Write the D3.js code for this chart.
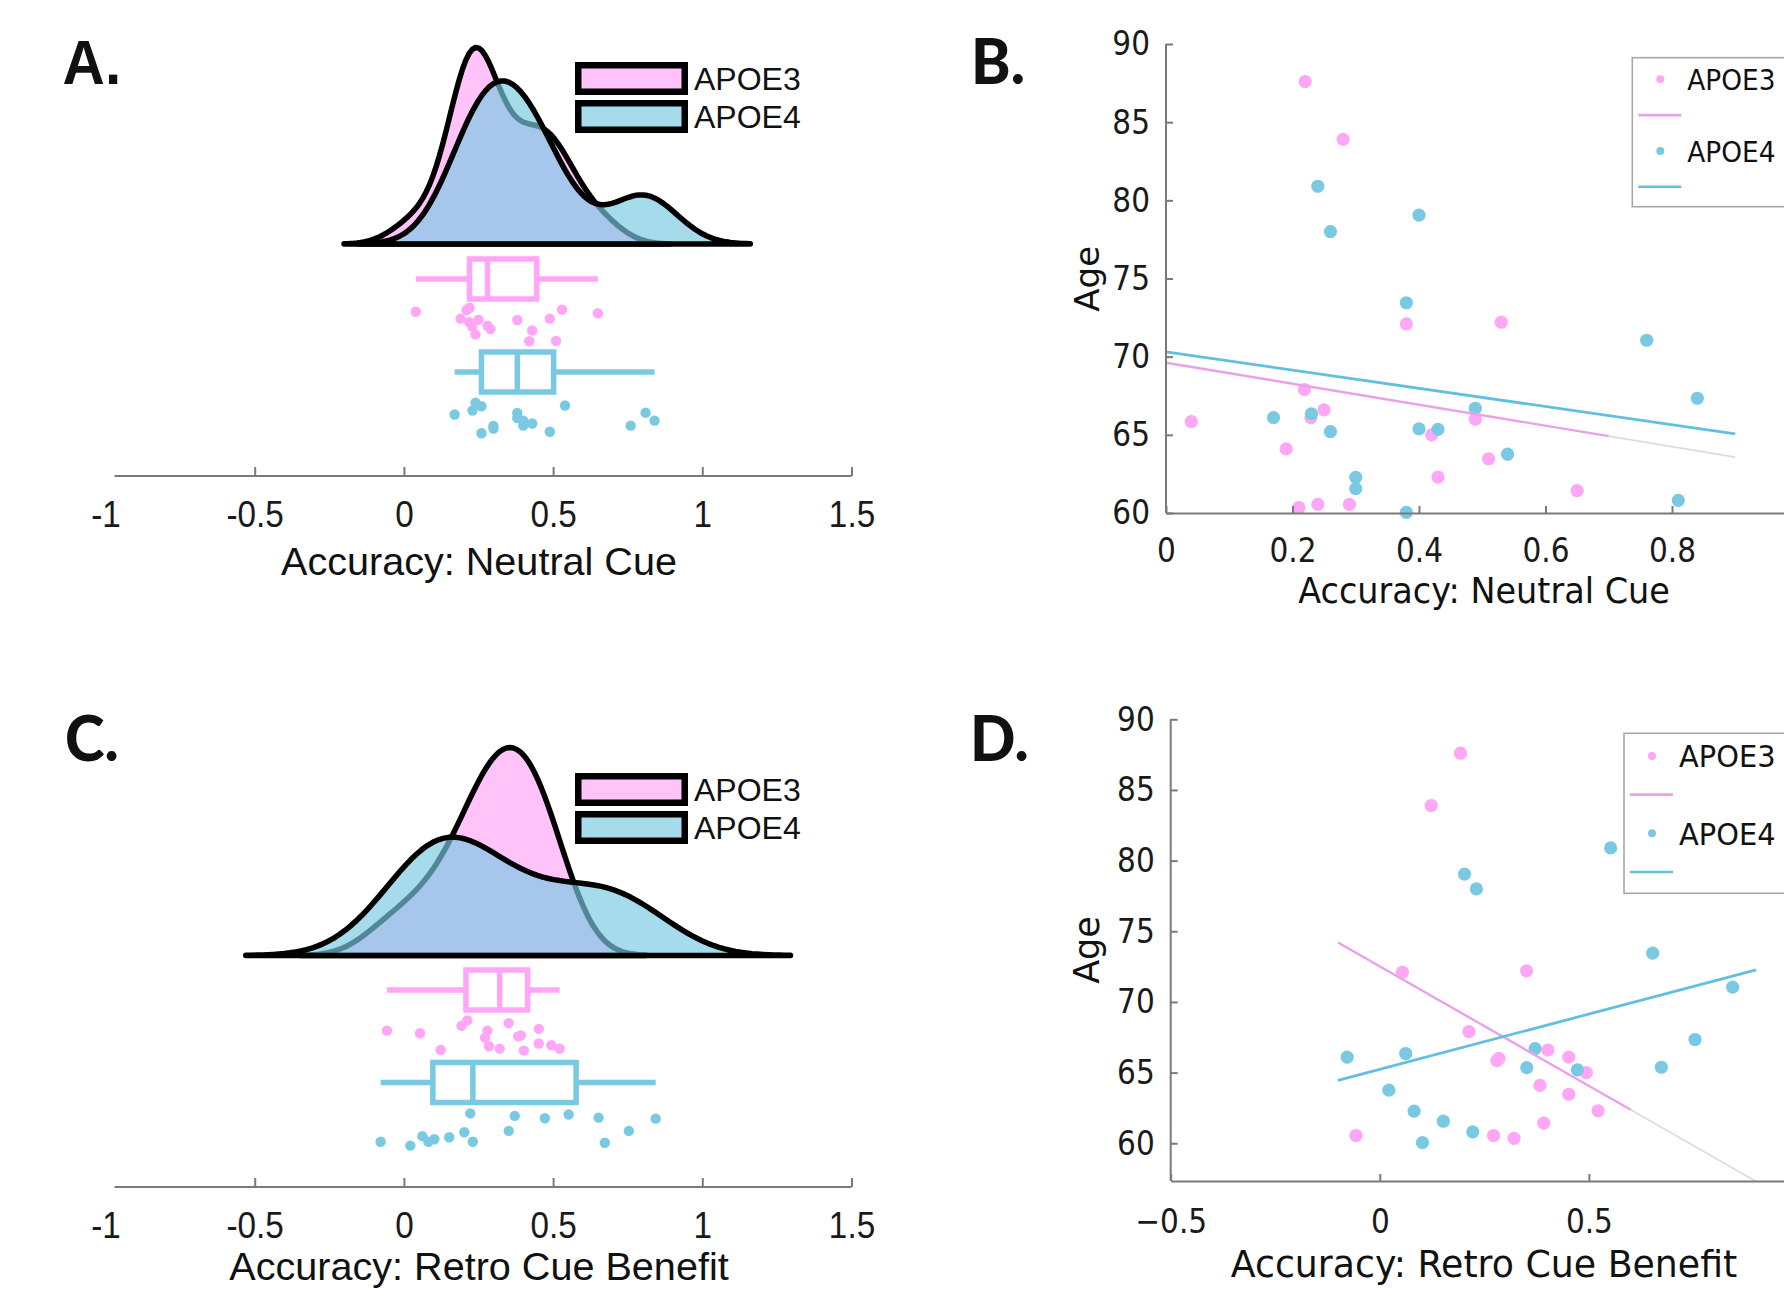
<!DOCTYPE html>
<html>
<head>
<meta charset="utf-8">
<title>APOE3 / APOE4 accuracy and age</title>
<script src="https://d3js.org/d3.v7.min.js"></script>
<style>
  body { margin: 0; background: #fff; }
  svg { display: block; }
</style>
</head>
<body>
<div id="fig"></div>
<script>
// ---- data: one entry per participant ----
var groups = ['APOE3', 'APOE4'];

var e3Neutral = [0.22, 0.28, 0.38, 0.219, 0.25, 0.229, 0.04, 0.19, 0.42, 0.43, 0.21, 0.24, 0.29, 0.489, 0.53, 0.51, 0.65];
var e3Retro   = [0.193, 0.123, 0.054, 0.213, 0.402, 0.452, 0.28, 0.383, 0.494, 0.522, 0.321, -0.057, 0.272, 0.285, 0.351, 0.452, 0.392];
var e3Age     = [87.6, 83.9, 72.1, 67.9, 66.6, 66.1, 65.85, 64.1, 65.0, 62.3, 60.35, 60.55, 60.55, 66.0, 72.2, 63.47, 61.43];

var e4Neutral = [0.24, 0.26, 0.40, 0.38, 0.17, 0.23, 0.26, 0.40, 0.43, 0.30, 0.30, 0.38, 0.489, 0.54, 0.76, 0.84, 0.81];
var e4Retro   = [0.552, 0.231, 0.2025, 0.6525, -0.078, 0.062, 0.4725, 0.6733, 0.3514, 0.082, 0.152, 0.102, 0.3714, 0.0216, 0.8437, 0.7538, 0.2223];
var e4Age     = [80.9, 78.0, 79.05, 73.45, 66.1, 66.35, 65.2, 65.38, 65.35, 62.28, 61.56, 60.04, 66.7, 63.76, 71.05, 67.34, 60.81];

// vertical jitter of the rain dots (0 = top of the band, 1 = bottom)
var e3NeutralJit = [0.05, 0.55, 0.39, 0.45, 0.38, 0.57, 0.16, 0.35, 0.98, 0.68, 0.11, 0.79, 0.64, 0.35, 0.1, 0.97, 0.2];
var e4NeutralJit = [0.1, 0.2, 0.74, 0.39, 0.43, 0.32, 0.95, 0.6, 0.68, 0.82, 0.75, 0.53, 0.91, 0.18, 0.74, 0.6, 0.38];
var e3RetroJit   = [0.23, 0.94, 0.45, 0.07, 0.96, 0.32, 0.37, 0.54, 0.8, 0.9, 0.9, 0.37, 0.58, 0.83, 0.15, 0.75, 0.51];
var e4RetroJit   = [0.07, 0.85, 0.58, 0.16, 0.85, 0.69, 0.18, 0.88, 0.54, 0.85, 0.72, 0.78, 0.11, 0.96, 0.19, 0.54, 0.04];

var ticksRain    = [-1, -0.5, 0, 0.5, 1, 1.5];
var ticksNeutral = [0, 0.2, 0.4, 0.6, 0.8];   // the 1 tick falls past the cropped edge
var ticksRetro   = [-0.5, 0, 0.5];
var ticksAge     = [60, 65, 70, 75, 80, 85, 90];

// x extent of the fitted lines: [start, end of coloured APOE3 part, end]
var fitSpanB = [0, 0.7, 0.9];
var fitSpanD = [-0.1, 0.6, 0.9];

var colors = ['#ffa6f7', '#7ac9e3'];
var lineColors = ['#eba0ea', '#62bfe0'];
var fontA = '"Liberation Sans", Arial, sans-serif';
var fontB = '"DejaVu Sans", Verdana, sans-serif';

var svg = d3.select('#fig').append('svg').attr('width', 1784).attr('height', 1290);

// text with an optional horizontal squeeze (the figure was resized unevenly)
function label(x, y, str, size, k, family, anchor, weight, rotate) {
  var g = svg.append('g').attr('transform', 'translate(' + x + ',' + y + ')' + (rotate ? ' rotate(' + rotate + ')' : '') + ' scale(' + k + ',1)');
  var t = g.append('text').attr('text-anchor', anchor || 'middle').attr('dy', '0.35em')
    .style('font-family', family).style('font-size', size + 'px').style('fill', '#111').text(str);
  if (weight) t.style('font-weight', weight);
  return t;
}

// matlab style ksdensity with default (normal) bandwidth
function ksdensity(v) {
  var n = v.length, med = d3.median(v);
  var sig = d3.median(v, function (d) { return Math.abs(d - med); }) / 0.6745;
  var u = sig * Math.pow(4 / (3 * n), 0.2);
  var lo = d3.min(v) - 3 * u, hi = d3.max(v) + 3 * u;
  return d3.range(100).map(function (i) {
    var xi = lo + (hi - lo) * i / 99;
    var f = d3.sum(v, function (d) { return Math.exp(-0.5 * Math.pow((xi - d) / u, 2)); }) / (n * u * Math.sqrt(2 * Math.PI));
    return [xi, f];
  });
}

// matlab style prctile
function prctile(sorted, p) {
  var n = sorted.length, pos = n * p + 0.5;
  if (pos <= 1) return sorted[0];
  if (pos >= n) return sorted[n - 1];
  var i = Math.floor(pos), f = pos - i;
  return sorted[i - 1] + f * (sorted[i] - sorted[i - 1]);
}

function styleAxis(g, size, k, family, left, pad) {
  g.attr('font-size', null).attr('font-family', null);
  g.select('.domain').attr('stroke', '#7a7a7a').attr('stroke-width', 2);
  g.selectAll('.tick line').attr('stroke', '#7a7a7a').attr('stroke-width', 2);
  var t = g.selectAll('.tick text').style('font-size', size + 'px').style('font-family', family)
    .attr('fill', '#1a1a1a').attr('transform', 'scale(' + k + ',1)');
  if (left) t.attr('x', -pad / k);
}

function raincloud(p) {
  var x = d3.scaleLinear().domain([-1, 1.5]).range([105.5, 851.5]);
  var dens = [ksdensity(p.values[0]), ksdensity(p.values[1])];
  var dmax = d3.max(dens, function (d) { return d3.max(d, function (q) { return q[1]; }); });
  var y = d3.scaleLinear().domain([0, dmax]).range([p.base, p.peak]);
  var area = d3.area().x(function (d) { return x(d[0]); }).y0(p.base).y1(function (d) { return y(d[1]); });

  var g = svg.append('g');
  dens.forEach(function (d, i) {
    g.append('path').datum(d).attr('d', area)
      .attr('fill', colors[i]).attr('fill-opacity', 0.67)
      .attr('stroke', '#000').attr('stroke-width', 5.5).attr('stroke-linejoin', 'round');
  });

  p.values.forEach(function (v, i) {
    var s = v.slice().sort(d3.ascending);
    var q1 = prctile(s, 0.25), md = prctile(s, 0.5), q3 = prctile(s, 0.75);
    var cy = p.boxY[i], hh = 20;
    var bg = g.append('g').attr('stroke', colors[i]).attr('stroke-width', 5.5).attr('fill', 'none');
    bg.append('line').attr('x1', x(s[0])).attr('x2', x(q1)).attr('y1', cy).attr('y2', cy);
    bg.append('line').attr('x1', x(q3)).attr('x2', x(s[s.length - 1])).attr('y1', cy).attr('y2', cy);
    bg.append('rect').attr('x', x(q1)).attr('y', cy - hh).attr('width', x(q3) - x(q1)).attr('height', 2 * hh);
    bg.append('line').attr('x1', x(md)).attr('x2', x(md)).attr('y1', cy - hh).attr('y2', cy + hh);

    var band = p.band[i];
    g.append('g').selectAll('circle').data(v).enter().append('circle')
      .attr('cx', function (d) { return x(d); })
      .attr('cy', function (d, j) { return band[0] + p.jit[i][j] * (band[1] - band[0]); })
      .attr('r', 5.2).attr('fill', colors[i]);
  });

  var ax = g.append('g').attr('transform', 'translate(0,' + p.axisY + ')')
    .call(d3.axisBottom(x).tickValues(ticksRain).tickFormat(function (d) { return String(d); })
      .tickSize(-9).tickSizeOuter(0).tickPadding(24.5));
  styleAxis(ax, 37, 0.9, fontA);
  // the drawn axis line starts just right of -1, with no tick mark there
  ax.select('.domain').attr('d', 'M' + x(-0.97) + ',0H' + x(1.5));
  ax.selectAll('.tick line').filter(function (d) { return d === -1; }).remove();

  label(479, p.labelY, p.label, 39.6, 1, fontA);

  groups.forEach(function (name, i) {
    var top = p.legendTop + i * 38;
    g.append('rect').attr('x', 578.25).attr('y', top + 3.25).attr('width', 106.5).attr('height', 26.5)
      .attr('fill', colors[i]).attr('fill-opacity', 0.67).attr('stroke', '#000').attr('stroke-width', 6.5);
    label(694, top + 17, name, 32, 1, fontA, 'start');
  });
}

function ols(xs, ys) {
  var mx = d3.mean(xs), my = d3.mean(ys), sxy = 0, sxx = 0;
  xs.forEach(function (v, i) { sxy += (v - mx) * (ys[i] - my); sxx += (v - mx) * (v - mx); });
  var b = sxy / sxx;
  return function (v) { return my + b * (v - mx); };
}

function scatter(p) {
  var x = d3.scaleLinear().domain(p.xDomain).range(p.xRange);
  var y = d3.scaleLinear().domain(p.yDomain).range(p.yRange);
  var g = svg.append('g');

  p.xs.forEach(function (xs, i) {
    g.append('g').selectAll('circle').data(xs).enter().append('circle')
      .attr('cx', function (d) { return x(d); })
      .attr('cy', function (d, j) { return y(p.ys[i][j]); })
      .attr('r', 6.6).attr('fill', colors[i]);
  });

  var span = p.span;
  var f3 = ols(p.xs[0], p.ys[0]), f4 = ols(p.xs[1], p.ys[1]);
  var seg = function (f, a, b) { return [[a, f(a)], [b, f(b)]]; };
  var line = d3.line().x(function (d) { return x(d[0]); }).y(function (d) { return y(d[1]); });
  g.append('path').attr('d', line(seg(f3, span[1], span[2]))).attr('stroke', '#dcdcdc').attr('stroke-width', 1.6).attr('fill', 'none');
  g.append('path').attr('d', line(seg(f3, span[0], span[1]))).attr('stroke', lineColors[0]).attr('stroke-width', 2.4).attr('fill', 'none');
  g.append('path').attr('d', line(seg(f4, span[0], span[2]))).attr('stroke', lineColors[1]).attr('stroke-width', 2.8).attr('fill', 'none');

  var ax = g.append('g').attr('transform', 'translate(0,' + p.yRange[0] + ')')
    .call(d3.axisBottom(x).tickValues(p.xTicks).tickFormat(p.fmt).tickSize(-7).tickSizeOuter(0).tickPadding(p.xPad));
  styleAxis(ax, 34, 0.87, fontB);
  var ay = g.append('g').attr('transform', 'translate(' + p.xRange[0] + ',0)')
    .call(d3.axisLeft(y).tickValues(ticksAge).tickSize(-7).tickSizeOuter(0));
  styleAxis(ay, 34, 0.87, fontB, true, 16);
  ay.select('.domain').attr('d', 'M0,' + p.yRange[0] + 'V' + y(90));

  label(1484, p.labelY, p.label, p.labelSize, p.labelK, fontB);
  label(1086.6, p.ageY, 'Age', p.ageSize, 1, fontB, 'middle', null, -90);

  // legend
  var L = p.legend;
  g.append('rect').attr('x', L.x).attr('y', L.y).attr('width', 240).attr('height', L.h)
    .attr('fill', '#fff').attr('stroke', '#a8a8a8').attr('stroke-width', 1.6);
  groups.forEach(function (name, i) {
    var cy = L.y + L.first + i * L.step;
    g.append('circle').attr('cx', L.x + 28).attr('cy', cy).attr('r', 4).attr('fill', colors[i]);
    label(L.x + L.tx, cy + 1, name, L.size, L.k, fontB, 'start');
    g.append('line').attr('x1', L.x + 6).attr('x2', L.x + 49).attr('y1', cy + L.step / 2).attr('y2', cy + L.step / 2)
      .attr('stroke', lineColors[i]).attr('stroke-width', 2.6);
  });
}

raincloud({
  values: [e3Neutral, e4Neutral], jit: [e3NeutralJit, e4NeutralJit],
  base: 244, peak: 47.5, boxY: [279, 372], band: [[306, 342], [399, 435]],
  axisY: 476, labelY: 561, legendTop: 62, label: 'Accuracy: Neutral Cue'
});
raincloud({
  values: [e3Retro, e4Retro], jit: [e3RetroJit, e4RetroJit],
  base: 955.5, peak: 747.5, boxY: [990, 1082.5], band: [[1018, 1052], [1112, 1147]],
  axisY: 1187, labelY: 1266, legendTop: 773, label: 'Accuracy: Retro Cue Benefit'
});

scatter({
  xs: [e3Neutral, e4Neutral], ys: [e3Age, e4Age],
  xDomain: [0, 1], xRange: [1166, 1798.5], yDomain: [60, 90], yRange: [513, 44],
  xTicks: ticksNeutral, fmt: function (d) { return String(d); }, xPad: 24.5, span: fitSpanB,
  label: 'Accuracy: Neutral Cue', labelY: 590.5, labelSize: 36, labelK: 0.93, ageY: 278.8, ageSize: 34,
  legend: { x: 1632.3, y: 57.7, h: 149, first: 21.6, step: 71.6, tx: 55, size: 28.4, k: 0.93 }
});
scatter({
  xs: [e3Retro, e4Retro], ys: [e3Age, e4Age],
  xDomain: [-0.5, 1], xRange: [1170.7, 1798], yDomain: [57.33, 90], yRange: [1181, 719.3],
  xTicks: ticksRetro, fmt: d3.format(''), xPad: 28, span: fitSpanD,
  label: 'Accuracy: Retro Cue Benefit', labelY: 1264, labelSize: 38, labelK: 0.955, ageY: 950, ageSize: 35,
  legend: { x: 1624, y: 733.3, h: 160, first: 22.7, step: 77.3, tx: 55, size: 29.8, k: 0.97 }
});

// panel letters
label(62.6, 62, 'A.', 63, 0.93, fontA, 'start', 'bold');
label(971, 62, 'B.', 63, 0.95, 'Lato, "Open Sans", sans-serif', 'start', '900');
label(65, 739, 'C.', 63, 0.95, 'Lato, "Open Sans", sans-serif', 'start', '900');
label(970, 739, 'D.', 63, 0.95, 'Lato, "Open Sans", sans-serif', 'start', '900');
</script>
</body>
</html>
